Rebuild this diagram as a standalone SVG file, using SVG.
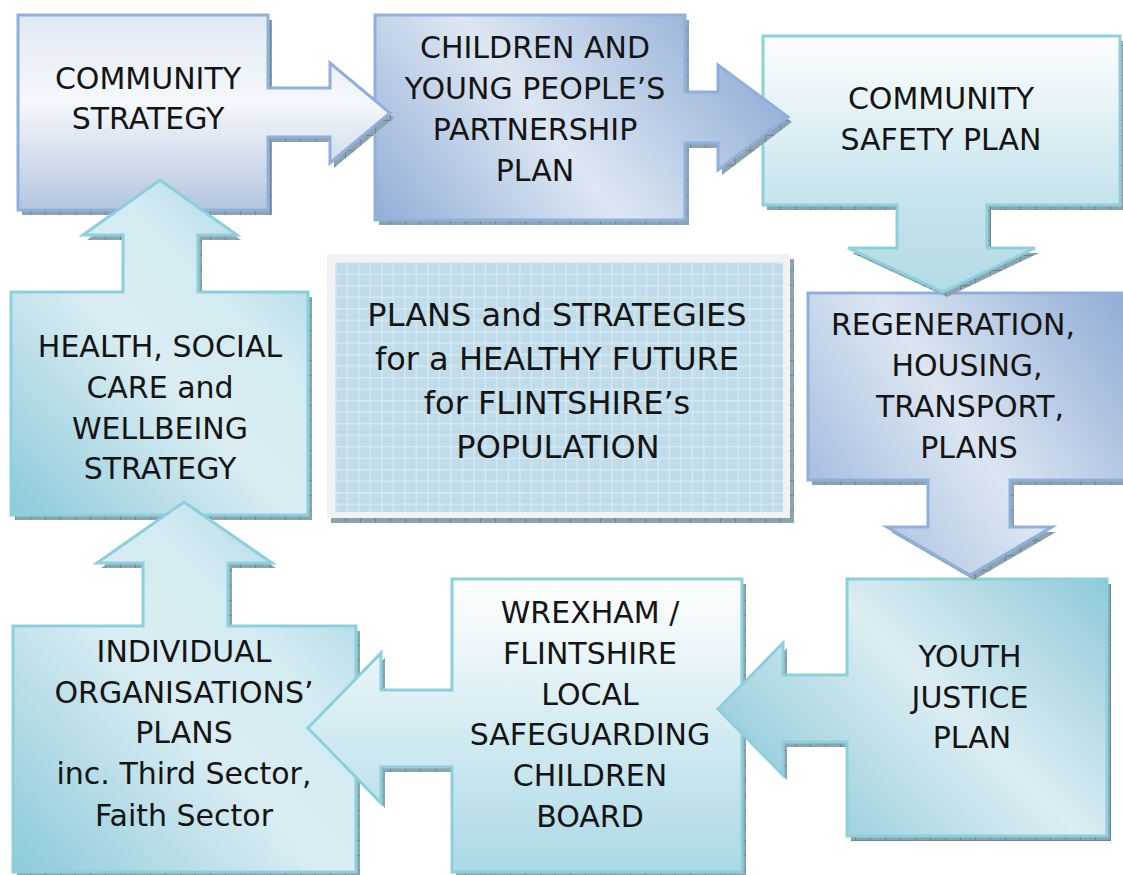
<svg xmlns="http://www.w3.org/2000/svg" xmlns:xlink="http://www.w3.org/1999/xlink" width="1123" height="875" viewBox="0 0 1123 875">
<defs>
<style>
.lbl{font-family:"DejaVu Sans","Liberation Sans",sans-serif;font-size:30px;fill:#141414;text-anchor:middle}
.big{font-size:32px}
.shadow{fill:url(#shadP)}
.bb{stroke:#8fb0dc;stroke-width:3;stroke-linejoin:miter}
.cb{stroke:#8ccfdd;stroke-width:3;stroke-linejoin:miter}
</style>
<pattern id="shadP" patternUnits="userSpaceOnUse" width="15" height="15">
<rect width="15" height="15" fill="#8da4ae"/>
<path d="M0.5,0V15M0,0.5H15" stroke="#6d8894" stroke-width="1"/>
</pattern>
<pattern id="gridP" patternUnits="userSpaceOnUse" x="335" y="262" width="11.5" height="11.5">
<rect width="11.5" height="11.5" fill="#bfdbe9"/>
<path d="M5.75,0V11.5M0,5.75H11.5" stroke="#cde3ee" stroke-width="0.6" stroke-dasharray="1 1"/>
<path d="M0.75,0V11.5M0,0.75H11.5" stroke="#d5e9f2" stroke-width="1.4"/>
</pattern>
<linearGradient id="g1" gradientUnits="userSpaceOnUse" x1="0" y1="15" x2="0" y2="210">
<stop offset="0" stop-color="#e1e9f4"/><stop offset="0.45" stop-color="#f5f8fc"/><stop offset="1" stop-color="#b4c5e0"/>
</linearGradient>
<linearGradient id="g2" gradientUnits="userSpaceOnUse" x1="400" y1="240" x2="690" y2="10">
<stop offset="0" stop-color="#95b0d8"/><stop offset="0.5" stop-color="#dde7f3"/><stop offset="1" stop-color="#9bb5da"/>
</linearGradient>
<linearGradient id="g3" gradientUnits="userSpaceOnUse" x1="0" y1="36" x2="0" y2="292">
<stop offset="0" stop-color="#fdfeff"/><stop offset="0.66" stop-color="#c4e3ec"/><stop offset="1" stop-color="#b3dbe6"/>
</linearGradient>
<linearGradient id="g4" gradientUnits="userSpaceOnUse" x1="808" y1="500" x2="1123" y2="290">
<stop offset="0" stop-color="#a4bcdf"/><stop offset="0.45" stop-color="#dce6f2"/><stop offset="1" stop-color="#90acd6"/>
</linearGradient>
<linearGradient id="g5" gradientUnits="userSpaceOnUse" x1="847" y1="836" x2="1107" y2="579">
<stop offset="0" stop-color="#9fd2df"/><stop offset="0.45" stop-color="#dcedf3"/><stop offset="1" stop-color="#8ecad9"/>
</linearGradient>
<linearGradient id="g6" gradientUnits="userSpaceOnUse" x1="0" y1="579" x2="0" y2="872">
<stop offset="0" stop-color="#ffffff"/><stop offset="1" stop-color="#abd9e6"/>
</linearGradient>
<linearGradient id="g7" gradientUnits="userSpaceOnUse" x1="13" y1="872" x2="356" y2="560">
<stop offset="0" stop-color="#8ccada"/><stop offset="0.5" stop-color="#daedf3"/><stop offset="0.75" stop-color="#d2eaf1"/><stop offset="1" stop-color="#a6d7e4"/>
</linearGradient>
<linearGradient id="g8" gradientUnits="userSpaceOnUse" x1="11" y1="515" x2="308" y2="230">
<stop offset="0" stop-color="#8ccada"/><stop offset="0.5" stop-color="#daedf3"/><stop offset="0.75" stop-color="#d2eaf1"/><stop offset="1" stop-color="#a6d7e4"/>
</linearGradient>
<clipPath id="tipClip"><rect x="372" y="55" width="30" height="120"/></clipPath>
</defs>

<rect width="1123" height="875" fill="#ffffff"/>

<g id="n1">
<path id="n1s" class="shadow" d="M22,20 H272 V93 H334 V68 L394,118 L334,168 V142 H272 V215 H22 Z"/>
<path id="n1b" class="bb" fill="url(#g1)" d="M18,15 H268 V88 H330 V63 L390,113 L330,163 V137 H268 V210 H18 Z"/>
<text class="lbl" x="148" y="89">COMMUNITY</text>
<text class="lbl" x="148" y="129">STRATEGY</text>
</g>

<g id="n8">
<path class="shadow" d="M15,297 H127 V240 H87 L164,185 L241,240 H202 V297 H312 V520 H15 Z"/>
<path class="cb" fill="url(#g8)" d="M11,292 H123 V235 H83 L160,180 L237,235 H198 V292 H308 V515 H11 Z"/>
<text class="lbl" x="160" y="357">HEALTH, SOCIAL</text>
<text class="lbl" x="160" y="398">CARE and</text>
<text class="lbl" x="160" y="439">WELLBEING</text>
<text class="lbl" x="160" y="479">STRATEGY</text>
</g>

<g id="n7">
<path class="shadow" d="M17,631 H147 V568 H101 L188,507 L276,568 H232 V631 H360 V880 H17 Z"/>
<path class="cb" fill="url(#g7)" d="M13,626 H143 V563 H97 L184,502 L272,563 H228 V626 H356 V872 H13 Z"/>
<text class="lbl" x="184" y="662">INDIVIDUAL</text>
<text class="lbl" x="184" y="703">ORGANISATIONS’</text>
<text class="lbl" x="184" y="743">PLANS</text>
<text class="lbl" x="184" y="784">inc. Third Sector,</text>
<text class="lbl" x="184" y="826">Faith Sector</text>
</g>

<g id="n6">
<path class="shadow" d="M456,584 H746 V880 H456 V772 H385 V808 L312,732 L385,658 V695 H456 Z"/>
<path class="cb" fill="url(#g6)" d="M452,579 H742 V872 H452 V767 H381 V803 L308,728 L381,653 V690 H452 Z"/>
<text class="lbl" x="590" y="623">WREXHAM /</text>
<text class="lbl" x="590" y="664">FLINTSHIRE</text>
<text class="lbl" x="590" y="705">LOCAL</text>
<text class="lbl" x="590" y="745">SAFEGUARDING</text>
<text class="lbl" x="590" y="786">CHILDREN</text>
<text class="lbl" x="590" y="827">BOARD</text>
</g>

<g id="n5">
<path class="shadow" d="M851,584 H1111 V841 H851 V747 H787 V780 L722,714 L787,648 V680 H851 Z"/>
<path class="cb" fill="url(#g5)" d="M847,579 H1107 V836 H847 V742 H783 V775 L718,709 L783,643 V675 H847 Z"/>
<text class="lbl" x="970" y="667">YOUTH</text>
<text class="lbl" x="970" y="708">JUSTICE</text>
<text class="lbl" x="972" y="748">PLAN</text>
</g>

<g id="n4">
<path class="shadow" d="M812,298 H1135 V485 H1014 V532 H1056 L974,580 L891,532 H932 V485 H812 Z"/>
<path class="bb" fill="url(#g4)" d="M808,293 H1135 V480 H1010 V527 H1052 L970,575 L887,527 H928 V480 H808 Z"/>
<text class="lbl" x="953" y="335">REGENERATION,</text>
<text class="lbl" x="967" y="376">HOUSING,</text>
<text class="lbl" x="970" y="417">TRANSPORT,</text>
<text class="lbl" x="969" y="458">PLANS</text>
</g>

<g id="n3">
<path class="shadow" d="M767,41 H1124 V210 H991 V253 H1039 L947,297 L852,253 H901 V210 H767 Z"/>
<path class="cb" fill="url(#g3)" d="M763,36 H1120 V205 H987 V248 H1035 L943,292 L848,248 H897 V205 H763 Z"/>
<text class="lbl" x="941" y="109">COMMUNITY</text>
<text class="lbl" x="941" y="150">SAFETY PLAN</text>
</g>

<g id="n2">
<path class="shadow" d="M379,20 H689 V97 H722 V70 L792,122 L722,175 V148 H689 V225 H379 Z"/>
<path class="bb" fill="url(#g2)" d="M375,15 H685 V92 H718 V65 L788,117 L718,170 V143 H685 V220 H375 Z"/>
<text class="lbl" x="535" y="58">CHILDREN AND</text>
<text class="lbl" x="535" y="99">YOUNG PEOPLE’S</text>
<text class="lbl" x="535" y="140">PARTNERSHIP</text>
<text class="lbl" x="535" y="181">PLAN</text>
</g>

<g id="n1-tip" clip-path="url(#tipClip)">
<use xlink:href="#n1s"/>
<use xlink:href="#n1b"/>
</g>

<g id="center">
<rect class="shadow" x="331" y="259" width="463" height="264"/>
<rect x="327" y="254" width="463" height="264" fill="#f1f3f3"/>
<rect x="335" y="262" width="448" height="250" fill="url(#gridP)"/>
<text class="lbl big" x="557" y="326">PLANS and STRATEGIES</text>
<text class="lbl big" x="557" y="370">for a HEALTHY FUTURE</text>
<text class="lbl big" x="557" y="414">for FLINTSHIRE’s</text>
<text class="lbl big" x="558" y="458">POPULATION</text>
</g>
</svg>
